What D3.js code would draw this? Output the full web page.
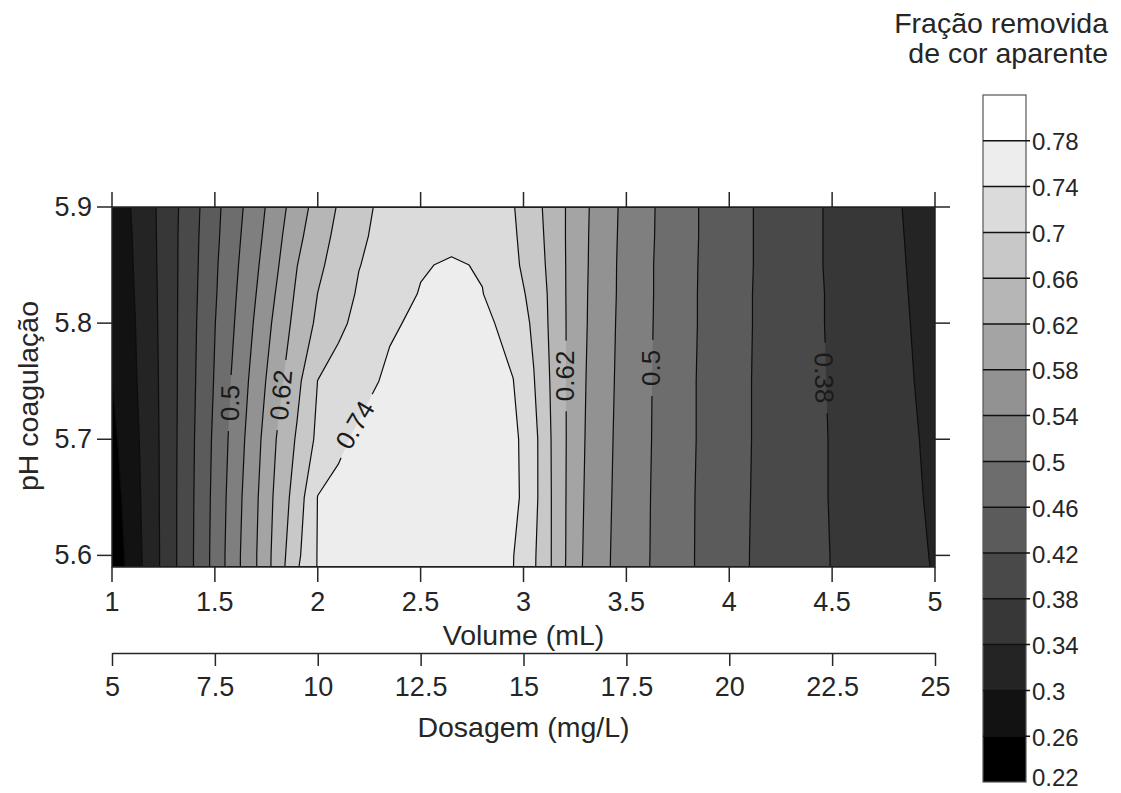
<!DOCTYPE html>
<html>
<head>
<meta charset="utf-8">
<script src="https://cdn.jsdelivr.net/npm/d3@7"></script>
<style>
  body { margin: 0; background: #ffffff; }
  svg { display: block; font-family: "Liberation Sans", Arial, Helvetica, sans-serif; }
</style>
</head>
<body>
<svg id="chart" width="1121" height="793"></svg>
<script>
// ---------------- data ----------------
// grid columns: Volume (mL)
const volume = [1.0, 1.1, 1.2, 1.3, 1.4, 1.5, 1.6, 1.7, 1.8, 1.9, 2.0, 2.1, 2.2, 2.35, 2.5, 2.65, 2.8, 2.95,
                3.05, 3.15, 3.25, 3.35, 3.5, 3.75, 4.0, 4.25, 4.5, 4.75, 5.0];
// grid rows: pH coagulação (top to bottom)
const pH = [5.9, 5.875, 5.85, 5.825, 5.8, 5.75, 5.7, 5.65, 5.6, 5.59];
// fração removida de cor aparente, one row per pH value
const removal_59   = [0.271,0.303,0.335,0.371,0.409,0.449,0.486,0.523,0.561,0.601,0.635,0.663,0.686,0.716,0.727,0.730,0.722,0.702,0.674,0.640,0.603,0.570,0.529,0.477,0.435,0.403,0.375,0.349,0.324];
const removal_5875 = [0.2695,0.3006,0.334,0.372,0.411,0.451,0.490,0.528,0.568,0.610,0.643,0.670,0.692,0.718,0.725,0.730,0.722,0.705,0.678,0.641,0.602,0.569,0.528,0.477,0.435,0.403,0.375,0.350,0.325];
const removal_585  = [0.268,0.299,0.333,0.372,0.412,0.454,0.494,0.534,0.575,0.6195,0.652,0.676,0.699,0.715,0.737,0.744,0.737,0.7075,0.683,0.642,0.602,0.568,0.527,0.476,0.435,0.403,0.375,0.351,0.326];
const removal_5825 = [0.2665,0.297,0.332,0.372,0.4135,0.456,0.498,0.5398,0.583,0.627,0.6605,0.684,0.704,0.724,0.742,0.750,0.741,0.714,0.690,0.644,0.601,0.567,0.527,0.476,0.434,0.403,0.376,0.352,0.327];
const removal_58   = [0.265,0.295,0.331,0.372,0.415,0.459,0.502,0.546,0.591,0.634,0.667,0.692,0.710,0.736,0.746,0.755,0.748,0.728,0.693,0.645,0.601,0.566,0.526,0.476,0.434,0.403,0.376,0.353,0.328];
const removal_575  = [0.2595,0.292,0.329,0.372,0.417,0.463,0.511,0.557,0.606,0.650,0.7006,0.715,0.729,0.746,0.758,0.761,0.751,0.7406,0.702,0.648,0.599,0.5635,0.525,0.475,0.433,0.403,0.377,0.354,0.3305];
const removal_57   = [0.250,0.287,0.327,0.3725,0.4195,0.468,0.518,0.567,0.621,0.665,0.7085,0.734,0.7455,0.756,0.767,0.763,0.753,0.750,0.712,0.650,0.598,0.561,0.524,0.475,0.433,0.403,0.378,0.356,0.333];
const removal_565  = [0.240,0.283,0.326,0.373,0.421,0.471,0.524,0.574,0.630,0.6785,0.741,0.748,0.754,0.764,0.770,0.761,0.752,0.752,0.712,0.651,0.596,0.559,0.523,0.474,0.432,0.403,0.378,0.357,0.335];
const removal_56   = [0.231,0.279,0.325,0.373,0.422,0.473,0.528,0.578,0.6355,0.6915,0.742,0.748,0.755,0.765,0.771,0.761,0.751,0.741,0.7055,0.652,0.594,0.557,0.522,0.474,0.431,0.403,0.379,0.358,0.3375];
const removal_559  = [0.229,0.278,0.325,0.373,0.422,0.473,0.528,0.578,0.636,0.696,0.742,0.748,0.755,0.765,0.771,0.761,0.751,0.7405,0.705,0.652,0.593,0.557,0.5215,0.474,0.431,0.403,0.379,0.359,0.338];
const removalRows = [removal_59, removal_5875, removal_585, removal_5825, removal_58, removal_575,
                     removal_57, removal_565, removal_56, removal_559];

// contour levels / legend classes
const levels = [0.22, 0.26, 0.30, 0.34, 0.38, 0.42, 0.46, 0.50, 0.54, 0.58, 0.62, 0.66, 0.70, 0.74, 0.78, 0.82];
const legendTickLabels = ["0.22","0.26","0.3","0.34","0.38","0.42","0.46","0.5","0.54","0.58","0.62","0.66","0.7","0.74","0.78"];
const bandGrays = [0, 18, 36, 55, 73, 91, 109, 127, 146, 164, 182, 200, 219, 237, 255];

// axis ticks
const volumeTicks = [1, 1.5, 2, 2.5, 3, 3.5, 4, 4.5, 5];
const volumeTickLabels = ["1", "1.5", "2", "2.5", "3", "3.5", "4", "4.5", "5"];
const pHTicks = [5.6, 5.7, 5.8, 5.9];
const doseTicks = [5, 7.5, 10, 12.5, 15, 17.5, 20, 22.5, 25];
const doseTickLabels = ["5", "7.5", "10", "12.5", "15", "17.5", "20", "22.5", "25"];

// in-plot contour labels
const labelText   = ["0.5", "0.62", "0.74", "0.62", "0.5", "0.38"];
const labelVolume = [1.5735, 1.8214, 2.181, 3.2017, 3.6197, 4.4606];
const labelPH     = [5.7312, 5.7381, 5.7123, 5.7545, 5.7614, 5.7528];
const labelAngle  = [-89, -85, -59, -90, -90, 89];

// ---------------- layout ----------------
const W = 1121, H = 793;
const plot = { left: 112, right: 935, top: 207, bottom: 567 };
const svg = d3.select("#chart");
const ink = "#262626";

const x = d3.scaleLinear().domain([1, 5]).range([plot.left, plot.right]);
const y = d3.scaleLinear().domain([5.59, 5.9]).range([plot.bottom, plot.top]);
const xDose = d3.scaleLinear().domain([5, 25]).range([plot.left, plot.right]);

// grid-index -> pixel scales (polylinear, samples at index + 0.5)
const gx = d3.scaleLinear().domain(volume.map((_, i) => i + 0.5)).range(volume.map(v => x(v))).clamp(true);
const gy = d3.scaleLinear().domain(pH.map((_, j) => j + 0.5)).range(pH.map(p => y(p))).clamp(true);

const values = removalRows.flat();
const contourGen = d3.contours().size([volume.length, pH.length]).thresholds(levels.slice(0, -1));
const bands = contourGen(values);

const proj = d3.geoTransform({ point: function (px, py) { this.stream.point(gx(px), gy(py)); } });
const path = d3.geoPath(proj);

const bandColor = v => {
  const i = Math.round((v - 0.22) / 0.04);
  const g = bandGrays[Math.max(0, Math.min(bandGrays.length - 1, i))];
  return d3.rgb(g, g, g).toString();
};

const defs = svg.append("defs");
defs.append("clipPath").attr("id", "plotClip")
  .append("rect").attr("x", plot.left).attr("y", plot.top)
  .attr("width", plot.right - plot.left).attr("height", plot.bottom - plot.top);

// filled bands
svg.append("g").attr("clip-path", "url(#plotClip)")
  .selectAll("path").data(bands).join("path")
  .attr("d", path)
  .attr("fill", d => bandColor(d.value))
  .attr("stroke", "none");

// labels first measured so we can mask the contour lines
const fontLbl = 26;
const labelsG = svg.append("g");
const lbls = labelText.map((t, i) => ({ t, cx: x(labelVolume[i]), cy: y(labelPH[i]), a: labelAngle[i] }));

const mask = defs.append("mask").attr("id", "lineMask").attr("maskUnits", "userSpaceOnUse")
  .attr("x", 0).attr("y", 0).attr("width", W).attr("height", H);
mask.append("rect").attr("x", 0).attr("y", 0).attr("width", W).attr("height", H).attr("fill", "#fff");

lbls.forEach(l => {
  const tx = labelsG.append("text")
    .attr("transform", `translate(${l.cx},${l.cy}) rotate(${l.a})`)
    .attr("text-anchor", "middle").attr("dominant-baseline", "central")
    .attr("font-size", fontLbl).attr("fill", "#1a1a1a").text(l.t);
  const len = tx.node().getComputedTextLength();
  mask.append("rect")
    .attr("transform", `translate(${l.cx},${l.cy}) rotate(${l.a})`)
    .attr("x", -(len / 2 + 10)).attr("y", -11).attr("width", len + 20).attr("height", 22)
    .attr("fill", "#000");
});

// contour lines
svg.insert("g", () => labelsG.node())
  .attr("clip-path", "url(#plotClip)")
  .append("g").attr("mask", "url(#lineMask)")
  .selectAll("path").data(bands.filter(b => b.value > 0.23)).join("path")
  .attr("d", path)
  .attr("fill", "none").attr("stroke", "#0d0d0d").attr("stroke-width", 1.2)
  .attr("stroke-linejoin", "round");

// frame
svg.append("rect").attr("x", plot.left).attr("y", plot.top)
  .attr("width", plot.right - plot.left).attr("height", plot.bottom - plot.top)
  .attr("fill", "none").attr("stroke", ink).attr("stroke-width", 1.5);

const tickLen = 15;
const tk = svg.append("g").attr("stroke", ink).attr("stroke-width", 1.5);
volumeTicks.forEach(v => {
  tk.append("line").attr("x1", x(v)).attr("x2", x(v)).attr("y1", plot.bottom).attr("y2", plot.bottom + tickLen);
  tk.append("line").attr("x1", x(v)).attr("x2", x(v)).attr("y1", plot.top).attr("y2", plot.top - tickLen);
});
pHTicks.forEach(p => {
  tk.append("line").attr("y1", y(p)).attr("y2", y(p)).attr("x1", plot.left).attr("x2", plot.left - tickLen);
  tk.append("line").attr("y1", y(p)).attr("y2", y(p)).attr("x1", plot.right).attr("x2", plot.right + tickLen);
});

const fontTick = 27, fontTitle = 28.5;
const txt = svg.append("g").attr("fill", ink);
volumeTicks.forEach((v, i) => {
  txt.append("text").attr("x", x(v)).attr("y", 602).attr("text-anchor", "middle")
    .attr("dominant-baseline", "central").attr("font-size", fontTick).text(volumeTickLabels[i]);
});
pHTicks.forEach(p => {
  txt.append("text").attr("x", 92).attr("y", y(p)).attr("text-anchor", "end")
    .attr("dominant-baseline", "central").attr("font-size", fontTick).text(p.toFixed(1));
});
txt.append("text").attr("x", (plot.left + plot.right) / 2).attr("y", 635).attr("text-anchor", "middle")
  .attr("dominant-baseline", "central").attr("font-size", fontTitle).text("Volume (mL)");
txt.append("text").attr("transform", "translate(28,396) rotate(-90)").attr("text-anchor", "middle")
  .attr("dominant-baseline", "central").attr("font-size", fontTitle).text("pH coagulação");

// second axis: Dosagem
const doseY = 653;
const ax2 = svg.append("g").attr("transform", `translate(0,${doseY})`)
  .call(d3.axisBottom(xDose).tickValues(doseTicks).tickSize(13).tickSizeOuter(0).tickFormat((d, i) => doseTickLabels[i]));
ax2.select(".domain").attr("stroke", ink).attr("stroke-width", 1.5);
ax2.selectAll(".tick line").attr("stroke", ink).attr("stroke-width", 1.5);
ax2.selectAll(".tick text").attr("fill", ink).attr("font-size", fontTick)
  .attr("font-family", "Liberation Sans, Arial, sans-serif")
  .attr("dy", null).attr("y", 34).attr("dominant-baseline", "central");
txt.append("text").attr("x", (plot.left + plot.right) / 2).attr("y", 727).attr("text-anchor", "middle")
  .attr("dominant-baseline", "central").attr("font-size", fontTitle).text("Dosagem (mg/L)");

// ---------------- colour bar ----------------
const cb = { x: 983, w: 43, top: 95, bottom: 782 };
const yc = d3.scaleLinear().domain([0.22, 0.82]).range([cb.bottom, cb.top]);
const cbG = svg.append("g");
cbG.selectAll("rect.band").data(levels.slice(0, -1)).join("rect").attr("class", "band")
  .attr("x", cb.x).attr("width", cb.w)
  .attr("y", d => yc(d + 0.04)).attr("height", d => yc(d) - yc(d + 0.04))
  .attr("fill", d => bandColor(d));
cbG.append("rect").attr("x", cb.x).attr("y", cb.top).attr("width", cb.w).attr("height", cb.bottom - cb.top)
  .attr("fill", "none").attr("stroke", "#555").attr("stroke-width", 1.2);
cbG.selectAll("line.lv").data(levels.slice(1, -1)).join("line").attr("class", "lv")
  .attr("x1", cb.x).attr("x2", cb.x + cb.w + 4)
  .attr("y1", d => yc(d)).attr("y2", d => yc(d))
  .attr("stroke", "#111").attr("stroke-width", 1.5);
cbG.selectAll("text").data(levels.slice(0, -1)).join("text")
  .attr("x", 1032).attr("y", d => Math.min(yc(d) + 1, 777))
  .attr("dominant-baseline", "central").attr("font-size", 24).attr("fill", ink)
  .text((d, i) => legendTickLabels[i]);

txt.append("text").attr("x", 1108).attr("y", 33).attr("text-anchor", "end")
  .attr("font-size", fontTitle).text("Fração removida");
txt.append("text").attr("x", 1108).attr("y", 63).attr("text-anchor", "end")
  .attr("font-size", fontTitle).text("de cor aparente");
</script>
</body>
</html>
